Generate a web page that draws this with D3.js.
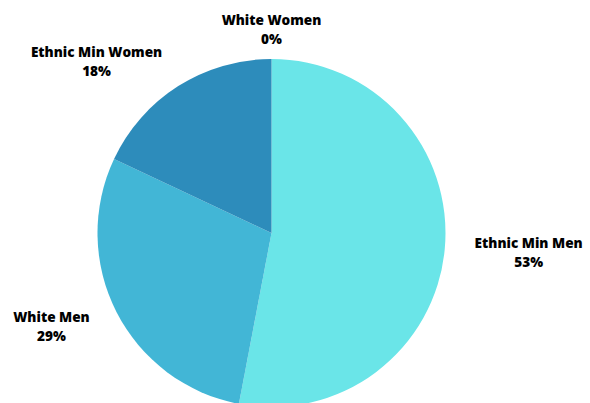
<!DOCTYPE html>
<html>
<head>
<meta charset="utf-8">
<script src="https://cdn.jsdelivr.net/npm/d3@7"></script>
<style>
  html, body { margin: 0; padding: 0; background: #ffffff; }
  svg { display: block; }
  text { font-family: "Open Sans", sans-serif; font-weight: 800; font-size: 13.6px; fill: #000; }
</style>
</head>
<body>
<svg id="chart" width="590" height="403"></svg>
<script>
// Share of each group, in percent, drawn clockwise from 12 o'clock
const categories = ["Ethnic Min Men", "White Men", "Ethnic Min Women", "White Women"];
const values = [53, 29, 18, 0];
const colors = ["#6ae5e8", "#42b6d6", "#2d8cbb", "#1f6f9f"];

const width = 590, height = 403;
const cx = 271.5, cy = 233, radius = 174, labelRadius = 204;

const svg = d3.select("#chart");
const g = svg.append("g").attr("transform", `translate(${cx},${cy})`);

const data = categories.map((c, i) => ({ name: c, value: values[i], color: colors[i] }));

const pie = d3.pie().value(d => d.value).sort(null);
const arcs = pie(data);

const arc = d3.arc().innerRadius(0).outerRadius(radius);
const labelArc = d3.arc().innerRadius(labelRadius).outerRadius(labelRadius);

g.selectAll("path.slice")
  .data(arcs)
  .join("path")
  .attr("class", "slice")
  .attr("d", arc)
  .attr("fill", d => d.data.color);

// Labels: name on first line, percentage on second, pushed outward by side of the pie
g.selectAll("text.label")
  .data(arcs)
  .join("text")
  .attr("class", "label")
  .attr("text-anchor", "middle")
  .each(function (d) {
    const mid = (d.startAngle + d.endAngle) / 2;
    const [x, y] = labelArc.centroid(d);
    const s = Math.sin(mid);
    const side = s > 0.1 ? 1 : (s < -0.1 ? -1 : 0);
    const t = d3.select(this);
    t.append("tspan").attr("x", 0).attr("y", -4).text(d.data.name);
    t.append("tspan").attr("x", 0).attr("y", 15).text(d.data.value + "%");
    const w = this.getBBox().width;
    t.attr("transform", `translate(${x + side * w / 2},${y})`);
  });
</script>
</body>
</html>
